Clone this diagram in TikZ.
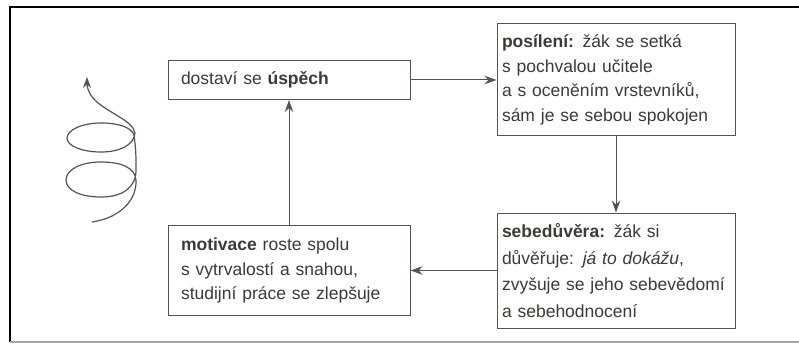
\documentclass[tikz,border=0pt]{standalone}
\usepackage{fontspec}
\setmainfont{Liberation Sans}
\usetikzlibrary{positioning}
\usetikzlibrary{arrows.meta}
\definecolor{inkgray}{HTML}{3D3938}
\definecolor{linegray}{HTML}{5B514F}

\begin{document}
\begin{tikzpicture}[x=1pt,y=1pt,>={Stealth[length=12pt,width=8.5pt]}] %% tikz nodes
	\tikzstyle{stage}=[rectangle,draw=linegray,line width=1pt,text=inkgray,align=left,inner ysep=4pt,font=\fontsize{17.5}{24.5}\selectfont];
	\tikzstyle{wide}=[inner xsep=13pt,text width=216pt];
	\tikzstyle{narrow}=[inner xsep=5pt,text width=228pt];
	\tikzstyle{link}=[draw=linegray,line width=1pt];
	\useasboundingbox (0,0) rectangle (799,343);
	\draw[line width=2.5pt] (799,336) -- (10,336) -- (10,1);
	\draw[black!35,line width=1.5pt] (10,1) -- (799,1);
	\node[stage,wide,minimum height=39pt] (uspech) at (289,263) {dostaví se \textbf{úspěch}};
	\node[stage,narrow,minimum height=112pt] (posileni) [right=86pt of uspech]
		{\textbf{posílení:} žák se setká\\s pochvalou učitele\\a s oceněním vrstevníků,\\sám je se sebou spokojen}
		edge [link,<-] (uspech);
	\node[stage,narrow,minimum height=115pt,font=\fontsize{17.5}{26.5}\selectfont] (sebeduvera) [below=76pt of posileni]
		{\textbf{sebedůvěra:} žák si\\důvěřuje: \textit{já to dokážu},\\zvyšuje se jeho sebevědomí\\a sebehodnocení}
		edge [link,<-] (posileni);
	\node[stage,wide,minimum height=90pt] (motivace) [left=86pt of sebeduvera]
		{\textbf{motivace} roste spolu\\s vytrvalostí a snahou,\\studijní práce se zlepšuje}
		edge [link,<-] (sebeduvera)
		edge [link,->] (uspech);
	% spirala
	\draw[->,draw=linegray,line width=1.2pt,>={Stealth[length=11pt,width=8pt]}] (92,121)
		.. controls (120,125) and (137,143) .. (136,163)
		.. controls (135,175) and (122,181) .. (101,181)
		.. controls (80,181) and (66,173) .. (66,163)
		.. controls (66,153) and (80,146) .. (101,146)
		.. controls (122,146) and (136,155) .. (136,173)
		.. controls (136,188) and (136,193) .. (134,208)
		.. controls (131,216) and (118,220) .. (101,220)
		.. controls (82,220) and (67,213) .. (67,205)
		.. controls (67,197) and (82,191) .. (101,191)
		.. controls (120,191) and (134,198) .. (135,210)
		.. controls (133,223) and (105,231) .. (93,245)
		.. controls (88,251) and (87,257) .. (87,266);
\end{tikzpicture}
\end{document}
